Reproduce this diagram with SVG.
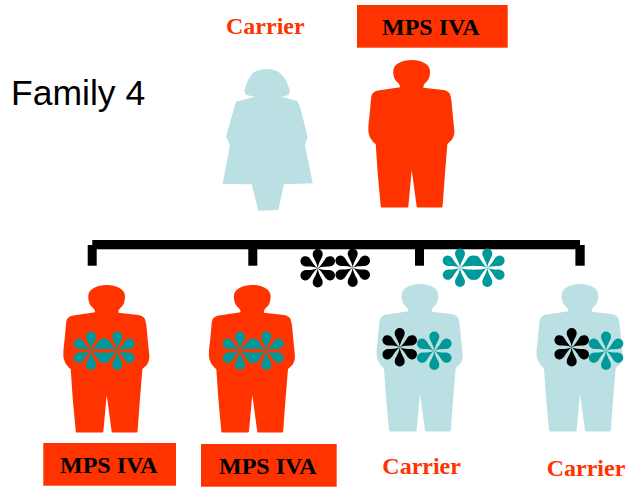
<svg xmlns="http://www.w3.org/2000/svg" xmlns:xlink="http://www.w3.org/1999/xlink" width="629" height="487" viewBox="0 0 629 487">
<style>
.red{fill:#ff3300}
.pale{fill:#bbe0e3}
.blk{fill:#000}
.teal{fill:#009999}
.lbl{font-family:"Liberation Serif","Times New Roman",serif;font-weight:bold;font-size:24px}
.lbl-r{fill:#ff3300}
.lbl-k{fill:#000}
.bar{fill:#000}
</style>
<defs>
<path id="man" d="M-11.7 27.3C-11.7 25.5 -12.5 24 -14 22.5C-17 20.5 -18.6 16 -18.4 11C-18.2 4 -10 0 0 0C10 0 18 4 18.3 11C18.5 16 17 20.5 14 22.5C12.5 24 11.5 25.5 11.7 27.7L31.7 30C34.5 30.5 36.5 31.5 38 33.5C39.5 37 40 42 40.3 46.7L42.7 71.7C42.5 75 41.5 78 40 80L35.7 84L33.3 113.3L30.9 146C30.8 147 30.2 147.6 29 147.6L6.5 147.6C5.5 147.6 5 147 4.9 146L0 110L-3.3 146C-3.4 147 -4 147.6 -5 147.6L-29 147.6C-30.4 147.6 -31 147 -31 146L-34 113.3L-36 84C-37.5 83 -39 81.5 -40 80C-42 77 -43 74.5 -43.3 71.7C-43.5 66 -43 61 -42.3 56.7L-40.5 37C-40 33.5 -38 32 -35 30.7Z"/>
<g id="star">
<path id="petal" d="M0 0C-.4 -4 -2.2 -7 -3.6 -9.8C-4.6 -11.5 -5 -13 -5 -14.2A5 5 0 0 1 5 -14.2C5 -13 4.6 -11.5 3.6 -9.8C2.2 -7 .4 -4 0 0Z"/>
<use xlink:href="#petal" href="#petal" transform="rotate(60)"/>
<use xlink:href="#petal" href="#petal" transform="rotate(120)"/>
<use xlink:href="#petal" href="#petal" transform="rotate(180)"/>
<use xlink:href="#petal" href="#petal" transform="rotate(240)"/>
<use xlink:href="#petal" href="#petal" transform="rotate(300)"/>
</g>
</defs>
<rect width="629" height="487" fill="#fff"/>
<g id="connectors">
<rect class="bar" x="92.3" y="240" width="487.7" height="9.3"/>
<rect class="bar" x="87.7" y="245" width="9" height="20.7"/>
<rect class="bar" x="248.3" y="245" width="9" height="20.7"/>
<rect class="bar" x="415" y="245" width="9" height="20.7"/>
<rect class="bar" x="575.4" y="245" width="9.3" height="20.7"/>
</g>
<text id="title" x="11" y="105" font-family="'Liberation Sans',Arial,sans-serif" font-size="35.5" fill="#000">Family 4</text>
<g id="mother">
<text class="lbl lbl-r" x="226" y="34">Carrier</text>
<path class="pale" d="M244.3 90.7L247.3 81.7C249 78 251 75 253.3 72.7C257 70 262 69 266.7 69C271 69 275 70 278.3 71.7C281 74 284 77 286 80L290 90.7L288.7 95L281.7 96.7L297.3 101L300 106.7L307.7 136.7L305 145L312.7 183.3L284 184.3L278.3 210L258.3 210.7L251.7 184.3L222.7 184L230 145L226 136.7L236 101.7L255 96.7L246 95Z"/>
</g>
<g id="father">
<rect class="red" x="357" y="5" width="150.7" height="42.7"/>
<text class="lbl lbl-k" x="382" y="34.7">MPS IVA</text>
<use class="red" xlink:href="#man" href="#man" x="411.7" y="60"/>
</g>
<g id="child1">
<use class="red" xlink:href="#man" href="#man" x="106.7" y="285"/>
<use class="teal" xlink:href="#star" href="#star" x="91" y="350.7"/>
<use class="teal" xlink:href="#star" href="#star" x="117.3" y="350.7"/>
<rect class="red" x="43.3" y="443" width="132.7" height="42.7"/>
<text class="lbl lbl-k" x="60" y="473.3">MPS IVA</text>
</g>
<g id="child2">
<use class="red" xlink:href="#man" href="#man" x="252.3" y="285"/>
<use class="teal" xlink:href="#star" href="#star" x="240" y="350.7"/>
<use class="teal" xlink:href="#star" href="#star" x="266.3" y="350.7"/>
<rect class="red" x="201" y="444" width="135.7" height="42.7"/>
<text class="lbl lbl-k" x="219" y="474.3">MPS IVA</text>
</g>
<g id="child3">
<use class="pale" xlink:href="#man" href="#man" x="420" y="284"/>
<use class="blk" xlink:href="#star" href="#star" x="399.7" y="347.3"/>
<use class="teal" xlink:href="#star" href="#star" x="434.3" y="350.7"/>
<text class="lbl lbl-r" x="382.3" y="474.3">Carrier</text>
</g>
<g id="child4">
<use class="pale" xlink:href="#man" href="#man" x="580" y="284"/>
<use class="blk" xlink:href="#star" href="#star" x="571.7" y="347.3"/>
<use class="teal" xlink:href="#star" href="#star" x="606" y="350.7"/>
<text class="lbl lbl-r" x="546.7" y="475.7">Carrier</text>
</g>
<g id="allele-black">
<use class="blk" xlink:href="#star" href="#star" x="317.7" y="268.3"/>
<use class="blk" xlink:href="#star" href="#star" x="352.7" y="267.7"/>
</g>
<g id="allele-teal">
<use class="teal" xlink:href="#star" href="#star" x="460" y="267.7"/>
<use class="teal" xlink:href="#star" href="#star" x="487.3" y="267.7"/>
</g>
</svg>
